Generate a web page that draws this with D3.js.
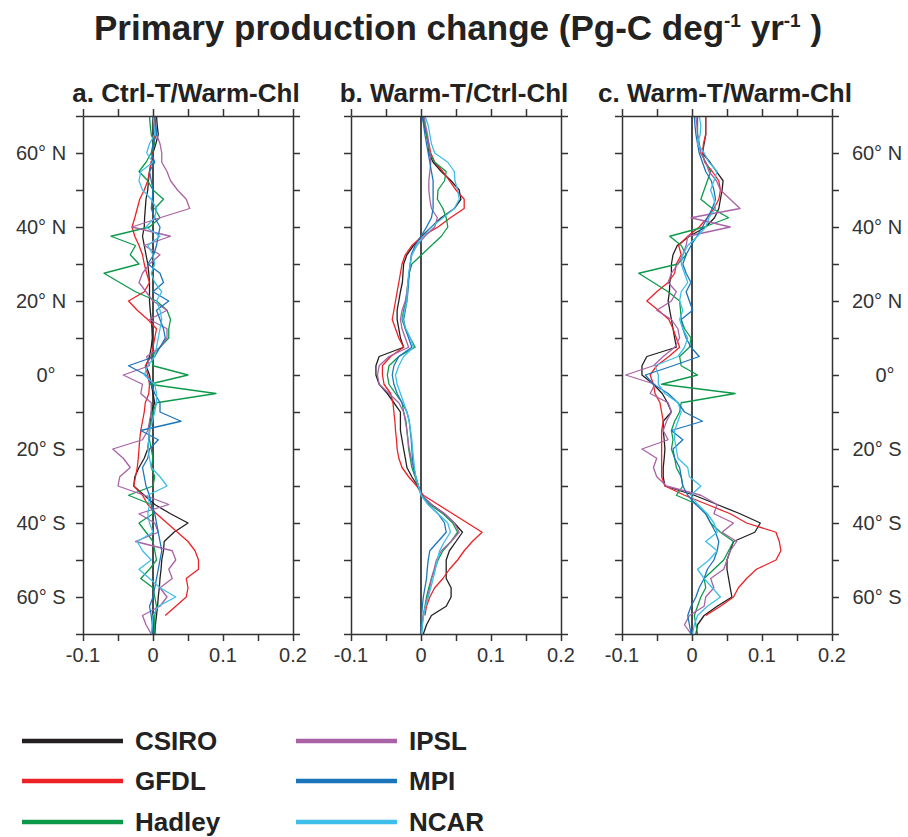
<!DOCTYPE html>
<meta charset="utf-8">
<style>
body { margin: 0; background: #fff; }
svg { font-family: "Liberation Sans", Arial, sans-serif; }
.axis path, .axis line { stroke: #333; stroke-width: 1.5px; }
.ticklab { font-size: 20px; fill: #333; }
.line { fill: none; stroke-width: 1.3px; stroke-linejoin: round; }
</style>
<body>
<script src="https://d3js.org/d3.v7.min.js"></script>
<script>
// latitude grid (deg, north positive)
var lats = [70, 67.5, 65, 62.5, 60, 57.5, 55, 52.5, 50, 47.5, 45, 42.5, 40, 37.5, 35, 32.5, 30, 27.5, 25, 22.5,
  20, 17.5, 15, 12.5, 10, 7.5, 5, 2.5, 0, -2.5, -5, -7.5, -10, -12.5, -15, -17.5, -20, -22.5, -25, -27.5,
  -30, -32.5, -35, -37.5, -40, -42.5, -45, -47.5, -50, -52.5, -55, -57.5, -60, -62.5, -65, -67.5, -70];

var models = ["CSIRO", "GFDL", "Hadley", "IPSL", "MPI", "NCAR"];
var colors = ["#231f20", "#ec2227", "#0c9a4a", "#a962a6", "#1b75bb", "#3dbfe9"];
var panelTitles = ["a. Ctrl-T/Warm-Chl", "b. Warm-T/Ctrl-Chl", "c. Warm-T/Warm-Chl"];
var latTicks = [60, 40, 20, 0, -20, -40, -60];
var latLabels = ["60° N", "40° N", "20° N", "0°", "20° S", "40° S", "60° S"];
var xTicks = [-0.1, 0, 0.1, 0.2];
var xLabels = ["-0.1", "0", "0.1", "0.2"];

// a. Ctrl-T/Warm-Chl
var csiroA = [0.005, 0.006, 0.0075, 0.004, 0, -0.0025, -0.005, -0.0065, -0.0075, -0.01, -0.011, -0.012, -0.0125, -0.015, -0.0125, -0.01, -0.0075, -0.006, -0.005, -0.005,
  -0.005, -0.004, -0.0025, -0.0015, -0.001, -0.0025, -0.005, -0.01, -0.005, -0.0025, 0, 0.0025, -0.0025, -0.004, -0.005, -0.006, -0.0075, -0.0125, -0.02, -0.026,
  -0.0275, -0.0125, 0.0025, 0.025, 0.05, 0.03, 0.016, 0.015, 0.0125, 0.0115, 0.01, 0.009, 0.0075, 0.0065, 0.005, 0.0035, 0.0025];
var gfdlA = [0.0025, 0.0025, 0.0025, 0.001, 0, -0.0025, -0.005, -0.0075, -0.0125, -0.019, -0.0225, -0.026, -0.03, -0.026, -0.02, -0.015, -0.0125, -0.009, -0.005, -0.0125,
  -0.035, -0.0225, -0.0075, 0.005, 0.0025, 0, -0.0025, -0.011, -0.0075, -0.005, -0.006, -0.011, -0.0125, -0.015, -0.0175, -0.019, -0.02, -0.021, -0.0225, -0.025,
  -0.0275, -0.015, -0.0075, 0.005, 0.02, 0.035, 0.05, 0.06, 0.065, 0.065, 0.0475, 0.05, 0.0475, 0.0325, 0.0175, null, null];
var hadleyA = [-0.005, -0.004, -0.0025, 0.0025, -0.0025, -0.01, -0.02, -0.0075, 0, 0.015, 0.0025, 0.01, -0.005, -0.06, -0.025, -0.0325, -0.02, -0.07, -0.0475, -0.025,
  0.005, 0.02, 0.025, 0.0225, 0.0225, 0.01, -0.0025, 0, 0.05, -0.005, 0.09, 0.005, 0, -0.0025, -0.005, -0.005, -0.0025, 0, -0.0025, 0.0025,
  0, -0.035, -0.0025, 0, -0.02, -0.01, 0, 0.0025, 0.005, -0.005, -0.0175, 0, 0.0025, 0.005, 0.0025, 0.0025, 0.0025];
var ipslA = [0.0025, 0.004, 0.005, 0.01, 0.0125, 0.0125, 0.02, 0.025, 0.035, 0.0475, 0.0525, 0.01, -0.03, 0.025, -0.0125, 0.01, -0.005, -0.015, -0.02, -0.01,
  0, 0.02, -0.005, 0.02, 0.02, 0.01, -0.009, -0.005, -0.0425, -0.015, -0.0175, -0.0025, -0.0025, -0.005, -0.0075, -0.015, -0.0575, -0.0425, -0.0325, -0.0475,
  -0.05, -0.0125, 0.0225, -0.02, 0.0025, 0.0075, -0.025, 0.0275, 0.0325, 0.0225, 0.0275, 0.01, 0.02, 0.01, -0.015, -0.01, -0.0025];
var mpiA = [0.0025, 0.004, 0.005, 0, -0.0025, 0.0025, -0.005, -0.0025, 0, -0.001, -0.0025, 0.0025, 0.01, 0.0075, 0.005, 0.001, -0.0075, 0.01, 0.015, 0,
  0.0225, 0.005, 0.01, 0.015, 0.0175, 0.01, 0.0025, -0.035, -0.01, -0.0025, 0.0025, 0.01, 0.01, 0.04, -0.0175, 0.0075, -0.005, -0.0075, -0.015, -0.0125,
  -0.01, -0.005, -0.0025, 0.0025, 0.005, 0.0075, 0.01, 0.0125, 0.01, 0.0075, 0.005, 0.0025, 0, -0.005, -0.0025, -0.001, 0];
var ncarA = [0, 0.0015, 0.0025, -0.005, -0.009, 0, -0.0175, -0.02, -0.015, -0.0025, 0.005, 0.0025, -0.01, 0.01, -0.0075, 0, 0.0025, -0.0025, 0.0025, 0.0125,
  0.005, 0.01, 0.0125, 0.01, 0.0075, 0.005, 0.0025, -0.0075, -0.0125, 0.0025, 0.005, 0.005, 0.0025, -0.001, -0.005, -0.006, -0.0075, -0.005, -0.0025, 0.01,
  0.02, -0.0075, -0.005, -0.0075, -0.005, 0, -0.0225, -0.015, -0.0025, -0.02, -0.005, 0.01, 0.0325, 0.0075, 0, -0.001, -0.0025];

// b. Warm-T/Ctrl-Chl
var csiroB = [0.002, 0.0047, 0.0079, 0.0103, 0.0112, 0.0173, 0.0289, 0.0429, 0.0546, 0.057, 0.0476, 0.0289, 0.0149, 0.0009, -0.0107, -0.0201, -0.0248, -0.0257, -0.0266, -0.0294,
  -0.0317, -0.0341, -0.0341, -0.0317, -0.0294, -0.0248, -0.0598, -0.0644, -0.0644, -0.0598, -0.0481, -0.0387, -0.0294, -0.0294, -0.0294, -0.0271, -0.0248, -0.0224, -0.0201, -0.0131,
  -0.0047, 0.0009, 0.0149, 0.0336, 0.0476, 0.0593, 0.05, 0.0406, 0.036, 0.036, 0.036, 0.043, 0.043, 0.036, 0.0149, 0.0079, 0.0033];
var gfdlB = [0.0033, 0.0056, 0.0079, 0.0112, 0.014, 0.0196, 0.0313, 0.0406, 0.05, 0.0617, 0.0617, 0.042, 0.0243, 0.0019, -0.0131, -0.0224, -0.0271, -0.0294, -0.0317, -0.0341,
  -0.0364, -0.0387, -0.0411, -0.0364, -0.0317, -0.0248, -0.0434, -0.0551, -0.0551, -0.0528, -0.0434, -0.0401, -0.0387, -0.0373, -0.0364, -0.035, -0.0341, -0.0317, -0.0271, -0.0177,
  -0.0061, 0.0033, 0.0243, 0.0453, 0.0663, 0.0873, 0.0733, 0.0617, 0.0523, 0.0406, 0.0313, 0.0196, 0.0126, 0.0079, 0.0056, null, null];
var hadleyB = [0.0033, 0.0056, 0.0079, 0.0103, 0.0126, 0.0196, 0.036, 0.0336, 0.0243, 0.0234, 0.0313, 0.036, 0.0383, 0.029, 0.0149, 0.0009, -0.0131, -0.0168, -0.0187, -0.0201,
  -0.0215, -0.0248, -0.0271, -0.0224, -0.0154, -0.0084, -0.0317, -0.0457, -0.0481, -0.0457, -0.0364, -0.0271, -0.0248, -0.0215, -0.0201, -0.0187, -0.0177, -0.0154, -0.0131, -0.0084,
  -0.0047, 0.0009, 0.0126, 0.0313, 0.0453, 0.0523, 0.0429, 0.0313, 0.0243, 0.0196, 0.0149, 0.0112, 0.0079, 0.0056, 0.0033, 0.0019, 0.0009];
var ipslB = [0.0047, 0.0065, 0.0093, 0.0112, 0.0126, 0.014, 0.0126, 0.0112, 0.0112, 0.0126, 0.0149, 0.0233, 0.0196, 0.0056, -0.0061, -0.0131, -0.0154, -0.0168, -0.0187, -0.0201,
  -0.0224, -0.0271, -0.0294, -0.0271, -0.0224, -0.0177, -0.0457, -0.0598, -0.0621, -0.0598, -0.0457, -0.0317, -0.0248, -0.0224, -0.0201, -0.0187, -0.0168, -0.014, -0.0107, -0.0075,
  -0.0037, 0.0009, 0.0149, 0.0336, 0.0476, 0.0546, 0.043, 0.029, 0.022, 0.0187, 0.0149, 0.0126, 0.0093, 0.0065, 0.0033, 0.0009, 0];
var mpiB = [0.0019, 0.0037, 0.0056, 0.0079, 0.0103, 0.0126, 0.0149, 0.0173, 0.0173, 0.0173, 0.0173, 0.0149, 0.0079, 0, -0.0084, -0.014, -0.0154, -0.0168, -0.0177, -0.0187,
  -0.0201, -0.0224, -0.0248, -0.0224, -0.0177, -0.0131, -0.0317, -0.0387, -0.0411, -0.0387, -0.0341, -0.0271, -0.0201, -0.0168, -0.0154, -0.014, -0.0131, -0.0121, -0.0107, -0.0075,
  -0.0037, 0.0009, 0.0103, 0.0243, 0.0336, 0.036, 0.0243, 0.0126, 0.0103, 0.0089, 0.0079, 0.0056, 0.0033, 0.0019, 0.0009, 0.0005, 0];
var ncarB = [0.0056, 0.0103, 0.0126, 0.0149, 0.0196, 0.0383, 0.0476, 0.0485, 0.0523, 0.0546, 0.0476, 0.0313, 0.0149, 0.0033, -0.0061, -0.0131, -0.0154, -0.0177, -0.0187, -0.0196,
  -0.0201, -0.0234, -0.0261, -0.0215, -0.0154, -0.0107, -0.0248, -0.0317, -0.0364, -0.0341, -0.0294, -0.0248, -0.0201, -0.0168, -0.0149, -0.0131, -0.0121, -0.0107, -0.0093, -0.0075,
  -0.0037, 0, 0.0103, 0.0243, 0.0383, 0.042, 0.0336, 0.0266, 0.0234, 0.0205, 0.0173, 0.014, 0.0103, 0.0065, 0.0037, 0.0019, 0.0009];

// c. Warm-T/Warm-Chl
var csiroC = [0.0196, 0.0196, 0.0196, 0.0173, 0.0149, 0.0257, 0.035, 0.0444, 0.043, 0.0406, 0.0383, 0.0322, 0.0196, -0.0037, -0.021, -0.0271, -0.0294, -0.0294, -0.0318, -0.0322,
  -0.0341, -0.0318, -0.0294, -0.0271, -0.0248, -0.0224, -0.0645, -0.0715, -0.0715, -0.0551, -0.0425, -0.035, -0.0294, -0.0411, -0.0411, -0.0397, -0.0387, -0.0397, -0.0411, -0.0411,
  -0.0387, 0.0033, 0.0359, 0.0686, 0.0976, 0.0897, 0.0593, 0.0546, 0.05, 0.05, 0.0523, 0.0546, 0.057, 0.0359, 0.0173, 0.0079, 0.0056];
var gfdlC = [0.0196, 0.0196, 0.0196, 0.0164, 0.0149, 0.0182, 0.029, 0.0383, 0.0406, 0.0383, 0.0313, 0.022, 0.0103, -0.0061, -0.0191, -0.0154, -0.0224, -0.0248, -0.0341, -0.0504,
  -0.0645, -0.0481, -0.0331, -0.0271, -0.0224, -0.0177, -0.0331, -0.0504, -0.0598, -0.0551, -0.0528, -0.0458, -0.0434, -0.0411, -0.0434, -0.0434, -0.0434, -0.0434, -0.0434, -0.0434,
  -0.0387, -0.0107, 0.0219, 0.0546, 0.078, 0.12, 0.1247, 0.127, 0.12, 0.092, 0.078, 0.0663, 0.0593, 0.0406, 0.0196, null, null];
var hadleyC = [0.0079, 0.0079, 0.0079, 0.0103, 0.0126, 0.0196, 0.0266, 0.022, 0.0173, 0.0126, 0.029, 0.0523, 0.0173, -0.0318, -0.0154, -0.0084, -0.0201, -0.0761, -0.0551, -0.0341,
  -0.0177, -0.0164, -0.0154, -0.0107, -0.0014, -0.0037, -0.0177, -0.0154, 0.0079, -0.0434, 0.0617, -0.0154, -0.0177, -0.0248, -0.0294, -0.0271, -0.0294, -0.0248, -0.0224, -0.0154,
  -0.0131, -0.0224, 0.0079, 0.0196, 0.0266, 0.0406, 0.0593, 0.0523, 0.0453, 0.0313, 0.0173, 0.0196, 0.0126, 0.0079, 0.0033, 0.0056, 0.0079];
var ipslC = [0.0056, 0.007, 0.0079, 0.0103, 0.0126, 0.0196, 0.0243, 0.035, 0.0406, 0.0546, 0.0686, -0.0014, 0.0546, -0.0061, -0.0084, -0.0131, -0.0201, -0.0294, -0.0341, -0.0224,
  -0.0294, -0.0504, -0.0294, -0.0201, -0.0177, -0.0248, -0.0411, -0.0551, -0.0948, -0.0528, -0.0598, -0.0341, -0.0294, -0.0364, -0.0411, -0.0341, -0.0715, -0.0504, -0.0551, -0.0504,
  -0.0364, 0.0126, 0.0359, 0.0313, 0.0593, 0.0429, 0.0639, 0.0546, 0.05, 0.0453, 0.0266, 0.0313, 0.0196, 0.0173, -0.0037, -0.0107, -0.0014];
var mpiC = [0.0033, 0.0042, 0.0056, 0.0079, 0.0103, 0.0149, 0.0196, 0.0275, 0.0313, 0.0336, 0.029, 0.022, 0.0149, 0.007, -0.0014, -0.0084, -0.0131, -0.0084, -0.0014, -0.0084,
  -0.0037, 0.0009, -0.0154, -0.0131, -0.0084, -0.0014, 0.0103, -0.0271, -0.0667, -0.0551, -0.0341, -0.0201, -0.0107, 0.0149, -0.0294, -0.0131, -0.0271, -0.0248, -0.0177, -0.0154,
  -0.0131, -0.0061, 0.0056, 0.0196, 0.0266, 0.0336, 0.0383, 0.036, 0.0313, 0.022, 0.0173, 0.0103, 0.0056, -0.0014, -0.0061, -0.0037, -0.0014];
var ncarC = [0.0103, 0.0126, 0.0117, 0.0079, 0.0173, 0.0243, 0.036, 0.0313, 0.0266, 0.0313, 0.0336, 0.0243, 0.0196, 0.0079, -0.0061, -0.0131, -0.0154, -0.0107, -0.0061, -0.0154,
  -0.0177, -0.0131, -0.0177, -0.0131, -0.0061, -0.0107, -0.0201, -0.0528, -0.0481, -0.0481, -0.0387, -0.0201, -0.0154, -0.0201, -0.0248, -0.0248, -0.0224, -0.0201, -0.0061, -0.0037,
  0.0126, -0.0014, 0.0079, 0.0219, 0.0313, 0.036, 0.0196, 0.036, 0.0243, 0.0079, 0.0173, 0.0289, 0.0406, 0.0219, 0.0079, 0.0033, 0.0009];

var panels = [
  [csiroA, gfdlA, hadleyA, ipslA, mpiA, ncarA],
  [csiroB, gfdlB, hadleyB, ipslB, mpiB, ncarB],
  [csiroC, gfdlC, hadleyC, ipslC, mpiC, ncarC]
];

var W = 908, H = 837;
var panelLeft = [83, 351, 622], panelW = 210;
var plotTop = 116, plotBottom = 634;

var svg = d3.select("body").append("svg")
    .attr("width", W)
    .attr("height", H);

// title
var title = svg.append("text")
    .attr("x", 458)
    .attr("y", 40)
    .attr("text-anchor", "middle")
    .style("font-size", "35px")
    .style("font-weight", "bold")
    .attr("fill", "#222");
title.append("tspan").text("Primary production change (Pg-C deg");
title.append("tspan").attr("dy", -13).style("font-size", "19px").text("-1");
title.append("tspan").attr("dy", 13).text(" yr");
title.append("tspan").attr("dy", -13).style("font-size", "19px").text("-1");
title.append("tspan").attr("dy", 13).text(" )");

var y = d3.scaleLinear().domain([-70, 70]).range([plotBottom, plotTop]);
var latMinor = [-70, -60, -50, -40, -30, -20, -10, 0, 10, 20, 30, 40, 50, 60, 70];
var xMinor = [-0.1, -0.05, 0, 0.05, 0.1, 0.15, 0.2];

panels.forEach(function(series, p) {
  var x0 = panelLeft[p];
  var x = d3.scaleLinear().domain([-0.1, 0.2]).range([x0, x0 + panelW]);

  // panel title
  svg.append("text")
      .attr("x", x0 + panelW / 2 - 2)
      .attr("y", 102)
      .attr("text-anchor", "middle")
      .style("font-size", "26px")
      .style("font-weight", "bold")
      .attr("fill", "#222")
      .text(panelTitles[p]);

  // zero line
  svg.append("line")
      .attr("x1", x(0)).attr("x2", x(0))
      .attr("y1", plotTop).attr("y2", plotBottom)
      .attr("stroke", "#111")
      .attr("stroke-width", 1.5);

  // model curves
  series.forEach(function(vals, m) {
    var pts = lats.map(function(l, i) { return [vals[i], l]; });
    var line = d3.line()
        .defined(function(d) { return d[0] != null; })
        .x(function(d) { return x(d[0]); })
        .y(function(d) { return y(d[1]); });
    svg.append("path")
        .datum(pts)
        .attr("class", "line")
        .attr("stroke", colors[m])
        .attr("d", line);
  });

  // frame with outward ticks
  svg.append("g").attr("class", "axis")
      .attr("transform", "translate(" + x0 + ",0)")
      .call(d3.axisLeft(y).tickValues(latMinor).tickSize(7).tickSizeOuter(0).tickFormat(""));
  svg.append("g").attr("class", "axis")
      .attr("transform", "translate(" + (x0 + panelW) + ",0)")
      .call(d3.axisRight(y).tickValues(latMinor).tickSize(7).tickSizeOuter(0).tickFormat(""));
  svg.append("g").attr("class", "axis")
      .attr("transform", "translate(0," + plotTop + ")")
      .call(d3.axisTop(x).tickValues(xMinor).tickSize(7).tickSizeOuter(0).tickFormat(""));
  svg.append("g").attr("class", "axis")
      .attr("transform", "translate(0," + plotBottom + ")")
      .call(d3.axisBottom(x).tickValues(xMinor).tickSize(7).tickSizeOuter(0).tickFormat(""));

  // x tick labels
  svg.selectAll(null)
      .data(xTicks)
      .enter().append("text")
      .attr("class", "ticklab")
      .attr("x", function(d) { return x(d); })
      .attr("y", 662)
      .attr("text-anchor", "middle")
      .text(function(d, i) { return xLabels[i]; });
});

// latitude labels, left of panel a and right of panel c
[[41, 5], [877, 8]].forEach(function(pos) {
  svg.selectAll(null)
      .data(latTicks)
      .enter().append("text")
      .attr("class", "ticklab")
      .attr("x", function(d) { return pos[0] + (d === 0 ? pos[1] : 0); })
      .attr("y", function(d) { return y(d) + 7; })
      .attr("text-anchor", "middle")
      .text(function(d, i) { return latLabels[i]; });
});

// legend
var legX = [22, 296], legY = [741, 781, 822];
models.forEach(function(name, i) {
  var col = Math.floor(i / 3), row = i % 3;
  svg.append("line")
      .attr("x1", legX[col]).attr("x2", legX[col] + 101)
      .attr("y1", legY[row]).attr("y2", legY[row])
      .attr("stroke", colors[i])
      .attr("stroke-width", 4.5);
  svg.append("text")
      .attr("x", legX[col] + 113)
      .attr("y", legY[row] + 9)
      .style("font-size", "26px")
      .style("font-weight", "bold")
      .attr("fill", "#222")
      .text(name);
});
</script>
</body>
